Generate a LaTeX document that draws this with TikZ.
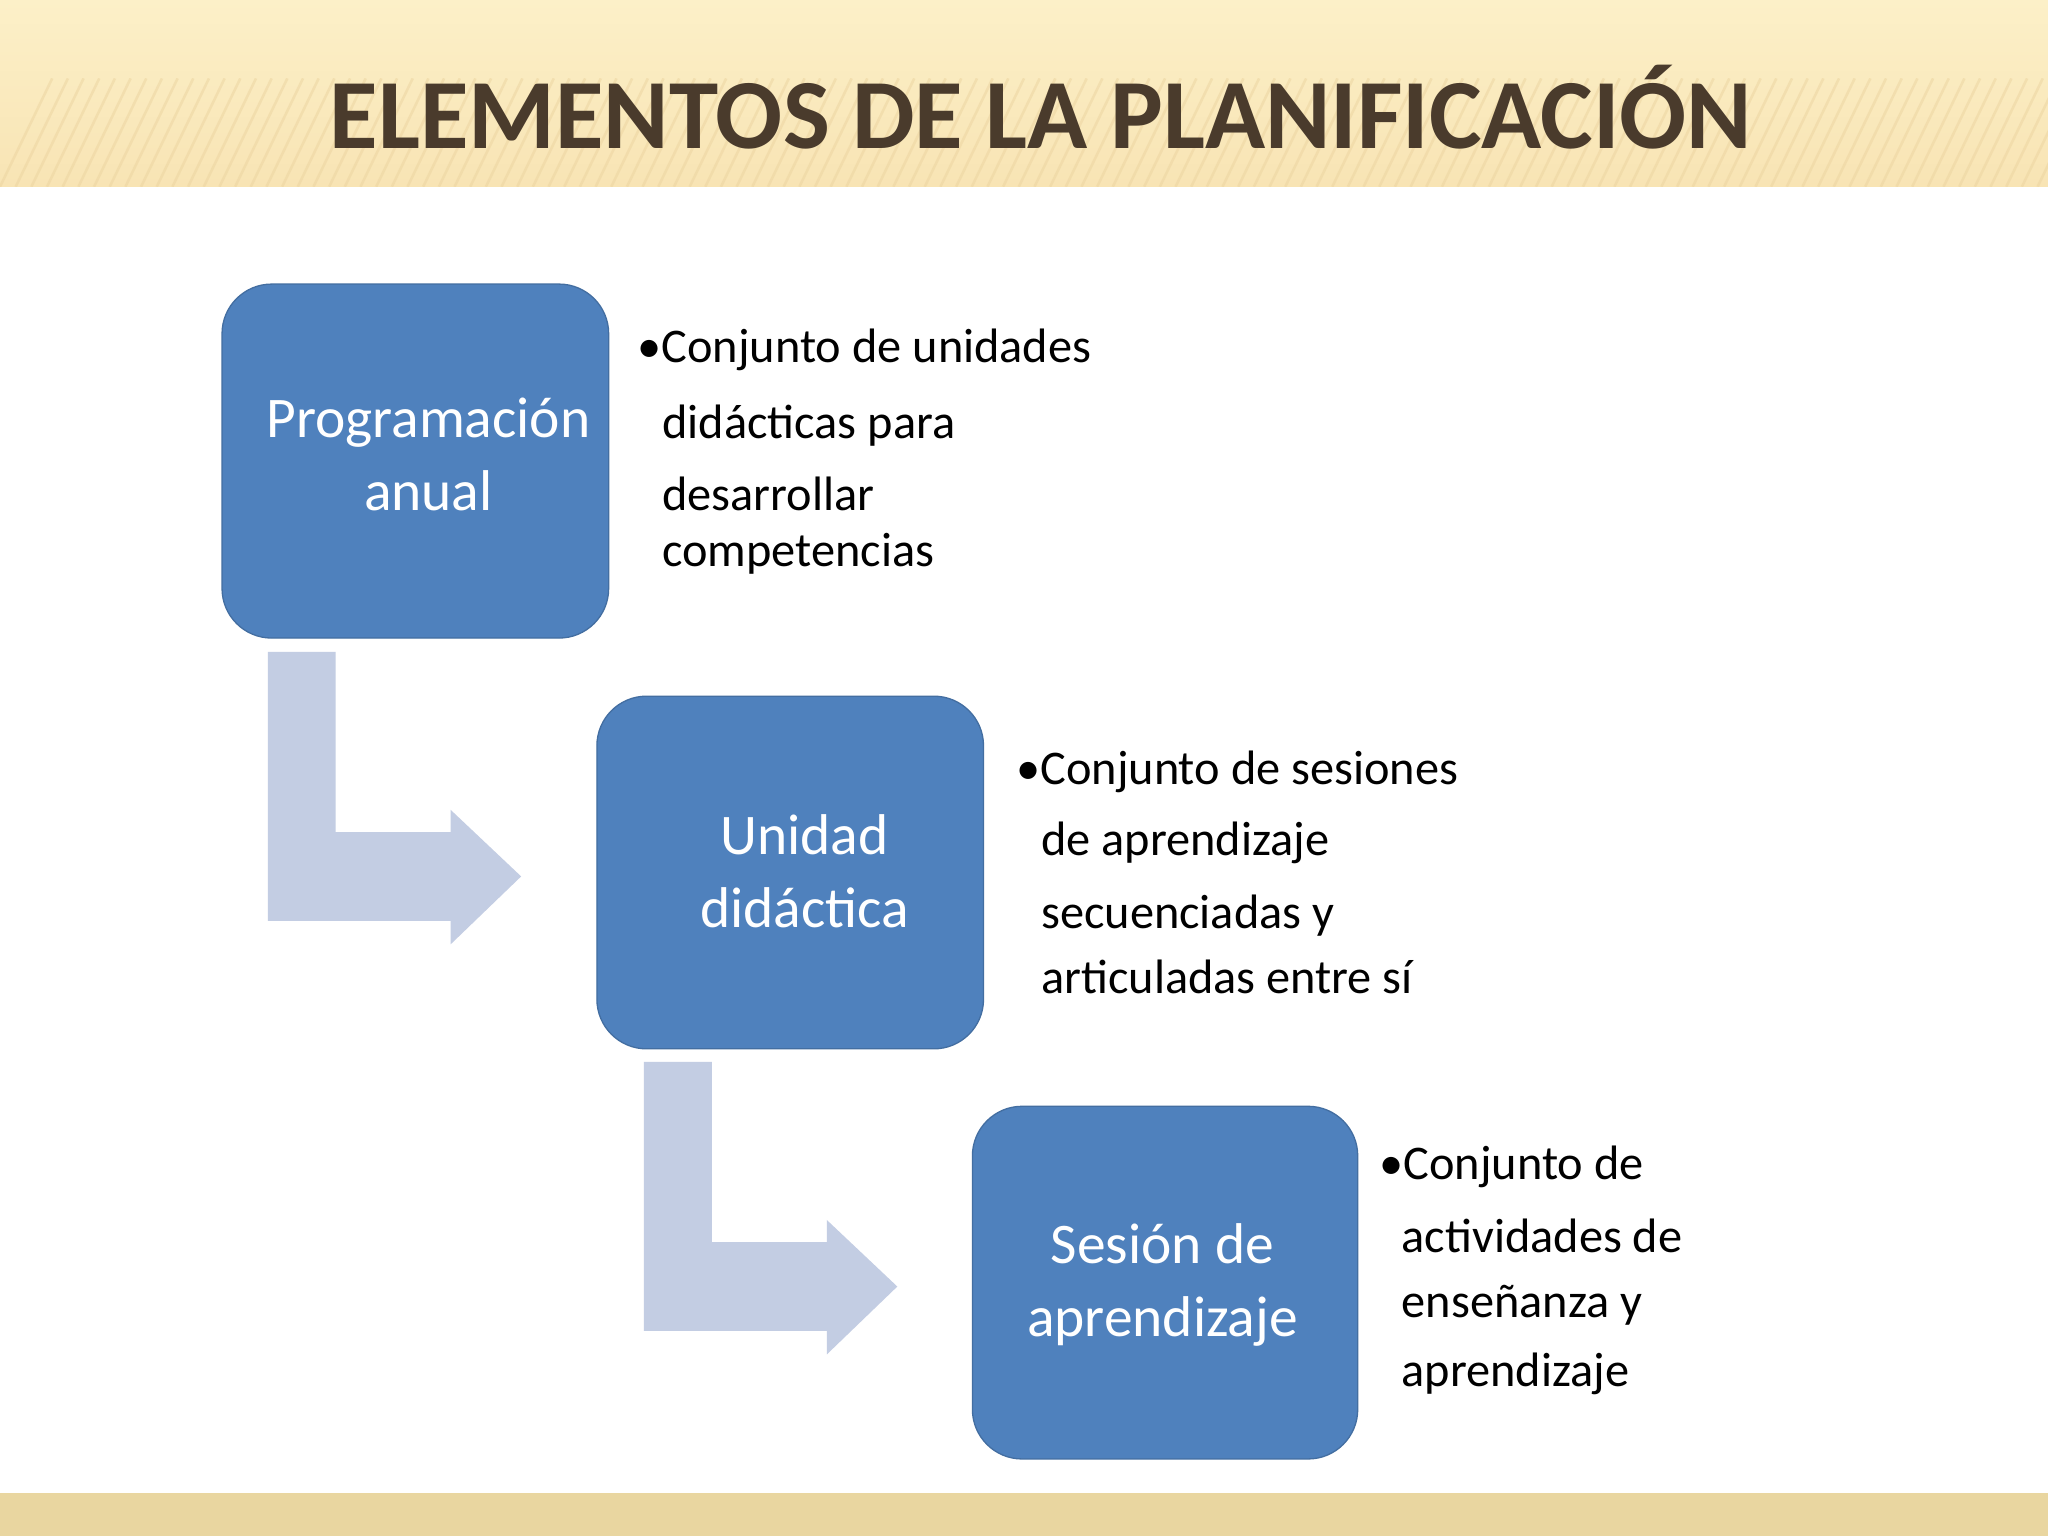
\documentclass[tikz,border=0pt]{standalone}
\usepackage{fontspec}
\setmainfont{Carlito}
\definecolor{boxblue}{HTML}{4F81BD}
\definecolor{arrowblue}{HTML}{C3CDE3}
\definecolor{titlebrown}{HTML}{4A3B2C}
\definecolor{hdrtop}{RGB}{252,240,200}
\definecolor{hdrbot}{RGB}{248,228,180}
\definecolor{hdrstripe}{RGB}{236,212,160}
\definecolor{footer}{RGB}{233,214,160}
\begin{document}
\begin{tikzpicture}[x=1pt,y=-1pt,
  box/.style={fill=boxblue,draw=boxblue!85!black,line width=1pt,rounded corners=38pt},
  boxtxt/.style={text=white,font=\fontsize{44}{56}\selectfont,align=center},
  desc/.style={anchor=west,font=\fontsize{37}{54}\selectfont,text=black,inner sep=0pt},
  barrow/.style={fill=arrowblue}]
\useasboundingbox (0,0) rectangle (1568,1176);
\fill[white] (0,0) rectangle (1568,1176);
% header
\fill[top color=hdrtop,bottom color=hdrbot] (0,0) rectangle (1568,143);
\begin{scope}
\clip (0,60) rectangle (1568,143);
\foreach \i in {0,12,...,1700}{\draw[hdrstripe,line width=2pt,opacity=0.5] (\i,143) -- (\i+40,60);}
\end{scope}
\fill[footer] (0,1143) rectangle (1568,1176);
\node[font=\fontsize{76}{80}\selectfont\bfseries,text=titlebrown] (title) at (797,82) {ELEMENTOS DE LA PLANIFICACIÓN};
% arrows
\fill[barrow] (205,499) -- (257,499) -- (257,637) -- (345,637) -- (345,620) -- (399,671) -- (345,723) -- (345,705) -- (205,705) -- cycle;
\fill[barrow] (493,813) -- (545,813) -- (545,951) -- (633,951) -- (633,934) -- (687,985) -- (633,1037) -- (633,1019) -- (493,1019) -- cycle;
% boxes
\node[box,minimum width=296pt,minimum height=271pt] (b1) at (318,353) {};
\node[boxtxt] (t1) at (328,348) {Programación\\anual};
\node[box,minimum width=296pt,minimum height=270pt] (b2) at (605,668) {};
\node[boxtxt] (t2) at (616,667) {Unidad\\didáctica};
\node[box,minimum width=295pt,minimum height=270pt] (b3) at (892,982) {};
\node[boxtxt] (t3) at (890,984) {Sesión de\\aprendizaje};
% descriptions
\node[desc] (d1a) at (488,268) {•Conjunto de unidades};
\node[desc] (d1b) at (507,326) {didácticas para};
\node[desc] (d1c) at (507,378) {desarrollar};
\node[desc] (d1d) at (507,424) {competencias};
\node[desc] (d2a) at (778,591) {•Conjunto de sesiones};
\node[desc] (d2b) at (797,645) {de aprendizaje};
\node[desc] (d2c) at (797,701) {secuenciadas y};
\node[desc] (d2d) at (797,748) {articuladas entre sí};
\node[desc] (d3a) at (1056,893) {•Conjunto de};
\node[desc] (d3b) at (1073,946) {actividades de};
\node[desc] (d3c) at (1073,999) {enseñanza y};
\node[desc] (d3d) at (1073,1052) {aprendizaje};
\end{tikzpicture}
\end{document}
